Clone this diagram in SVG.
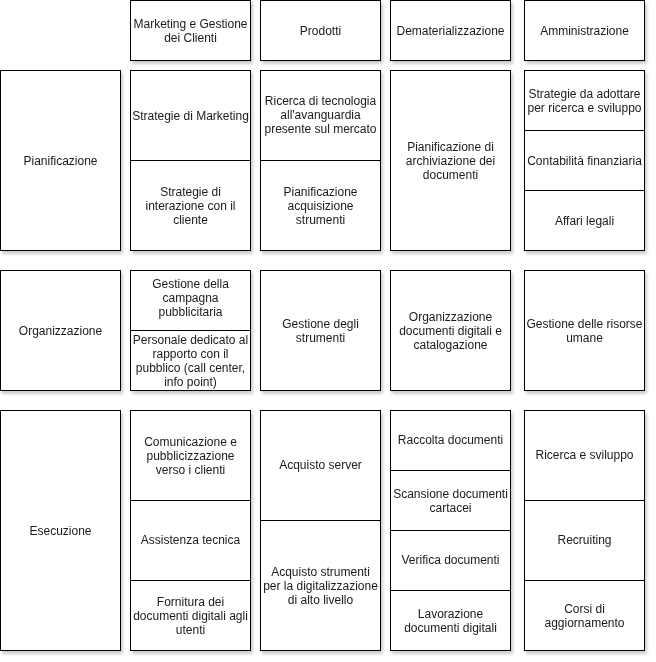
<svg xmlns="http://www.w3.org/2000/svg" width="656" height="662" viewBox="0 0 656 662">
<defs>
<filter id="sh" x="-10%" y="-10%" width="130%" height="130%">
<feDropShadow dx="2" dy="3" stdDeviation="1.5" flood-color="#000" flood-opacity="0.2"/>
</filter>
<style>
.box{fill:#fff;stroke:#000;stroke-width:1;}
.sec{filter:url(#sh);}
text{font-family:"Liberation Sans",Arial,Helvetica,sans-serif;font-size:12px;fill:#1a1a1a;text-anchor:middle;}
</style>
</defs>
<rect width="656" height="662" fill="#fff"/>
<g id="connectors"/>

<!-- Headers -->
<g id="hdr-marketing" class="sec"><rect class="box" x="130.5" y="0.5" width="120" height="60"/><text x="190.5" y="27.5">Marketing e Gestione</text><text x="190.5" y="41.5">dei Clienti</text></g>
<g id="hdr-prodotti" class="sec"><rect class="box" x="260.5" y="0.5" width="120" height="60"/><text x="320.5" y="34.5">Prodotti</text></g>
<g id="hdr-demat" class="sec"><rect class="box" x="390.5" y="0.5" width="120" height="60"/><text x="450.5" y="34.5">Dematerializzazione</text></g>
<g id="hdr-amm" class="sec"><rect class="box" x="524.5" y="0.5" width="120" height="60"/><text x="584.5" y="34.5">Amministrazione</text></g>

<!-- Pianificazione row -->
<g id="row-pianificazione" class="sec"><rect class="box" x="0.5" y="70.5" width="120" height="180"/><text x="60.5" y="164.5">Pianificazione</text></g>
<g id="pian-marketing" class="sec">
<rect class="box" x="130.5" y="70.5" width="120" height="90"/><text x="190.5" y="119.5">Strategie di Marketing</text>
<rect class="box" x="130.5" y="160.5" width="120" height="90"/><text x="190.5" y="195.5">Strategie di</text><text x="190.5" y="209.5">interazione con il</text><text x="190.5" y="223.5">cliente</text>
</g>
<g id="pian-prodotti" class="sec">
<rect class="box" x="260.5" y="70.5" width="120" height="90"/><text x="320.5" y="104.5">Ricerca di tecnologia</text><text x="320.5" y="118.5">all'avanguardia</text><text x="320.5" y="132.5">presente sul mercato</text>
<rect class="box" x="260.5" y="160.5" width="120" height="90"/><text x="320.5" y="195.5">Pianificazione</text><text x="320.5" y="209.5">acquisizione</text><text x="320.5" y="223.5">strumenti</text>
</g>
<g id="pian-demat" class="sec"><rect class="box" x="390.5" y="70.5" width="120" height="180"/><text x="450.5" y="150.5">Pianificazione di</text><text x="450.5" y="164.5">archiviazione dei</text><text x="450.5" y="178.5">documenti</text></g>
<g id="pian-amm" class="sec">
<rect class="box" x="524.5" y="70.5" width="120" height="60"/><text x="584.5" y="97.5">Strategie da adottare</text><text x="584.5" y="111.5">per ricerca e sviluppo</text>
<rect class="box" x="524.5" y="130.5" width="120" height="60"/><text x="584.5" y="164.5">Contabilità finanziaria</text>
<rect class="box" x="524.5" y="190.5" width="120" height="60"/><text x="584.5" y="224.5">Affari legali</text>
</g>

<!-- Organizzazione row -->
<g id="row-organizzazione" class="sec"><rect class="box" x="0.5" y="270.5" width="120" height="120"/><text x="60.5" y="334.5">Organizzazione</text></g>
<g id="org-marketing" class="sec">
<rect class="box" x="130.5" y="270.5" width="120" height="60"/><text x="190.5" y="288">Gestione della</text><text x="190.5" y="302">campagna</text><text x="190.5" y="316">pubblicitaria</text>
<rect class="box" x="130.5" y="330.5" width="120" height="60"/><text x="190.5" y="343.5">Personale dedicato al</text><text x="190.5" y="357.5">rapporto con il</text><text x="190.5" y="371.5">pubblico (call center,</text><text x="190.5" y="385.5">info point)</text>
</g>
<g id="org-prodotti" class="sec"><rect class="box" x="260.5" y="270.5" width="120" height="120"/><text x="320.5" y="327.5">Gestione degli</text><text x="320.5" y="341.5">strumenti</text></g>
<g id="org-demat" class="sec"><rect class="box" x="390.5" y="270.5" width="120" height="120"/><text x="450.5" y="320.5">Organizzazione</text><text x="450.5" y="334.5">documenti digitali e</text><text x="450.5" y="348.5">catalogazione</text></g>
<g id="org-amm" class="sec"><rect class="box" x="524.5" y="270.5" width="120" height="120"/><text x="584.5" y="327.5">Gestione delle risorse</text><text x="584.5" y="341.5">umane</text></g>

<!-- Esecuzione row -->
<g id="row-esecuzione" class="sec"><rect class="box" x="0.5" y="410.5" width="120" height="240"/><text x="60.5" y="534.5">Esecuzione</text></g>
<g id="ese-marketing" class="sec">
<rect class="box" x="130.5" y="410.5" width="120" height="90"/><text x="190.5" y="445.5">Comunicazione e</text><text x="190.5" y="459.5">pubblicizzazione</text><text x="190.5" y="473.5">verso i clienti</text>
<rect class="box" x="130.5" y="500.5" width="120" height="80"/><text x="190.5" y="543.5">Assistenza tecnica</text>
<rect class="box" x="130.5" y="580.5" width="120" height="70"/><text x="190.5" y="605.5">Fornitura dei</text><text x="190.5" y="619.5">documenti digitali agli</text><text x="190.5" y="633.5">utenti</text>
</g>
<g id="ese-prodotti" class="sec">
<rect class="box" x="260.5" y="410.5" width="120" height="110"/><text x="320.5" y="468.5">Acquisto server</text>
<rect class="box" x="260.5" y="520.5" width="120" height="130"/><text x="320.5" y="575.5">Acquisto strumenti</text><text x="320.5" y="589.5">per la digitalizzazione</text><text x="320.5" y="603.5">di alto livello</text>
</g>
<g id="ese-demat" class="sec">
<rect class="box" x="390.5" y="410.5" width="120" height="60"/><text x="450.5" y="444">Raccolta documenti</text>
<rect class="box" x="390.5" y="470.5" width="120" height="60"/><text x="450.5" y="498">Scansione documenti</text><text x="450.5" y="512">cartacei</text>
<rect class="box" x="390.5" y="530.5" width="120" height="60"/><text x="450.5" y="564">Verifica documenti</text>
<rect class="box" x="390.5" y="590.5" width="120" height="60"/><text x="450.5" y="617.5">Lavorazione</text><text x="450.5" y="631.5">documenti digitali</text>
</g>
<g id="ese-amm" class="sec">
<rect class="box" x="524.5" y="410.5" width="120" height="90"/><text x="584.5" y="459">Ricerca e sviluppo</text>
<rect class="box" x="524.5" y="500.5" width="120" height="80"/><text x="584.5" y="544">Recruiting</text>
<rect class="box" x="524.5" y="580.5" width="120" height="70"/><text x="584.5" y="612.5">Corsi di</text><text x="584.5" y="626.5">aggiornamento</text>
</g>
</svg>
